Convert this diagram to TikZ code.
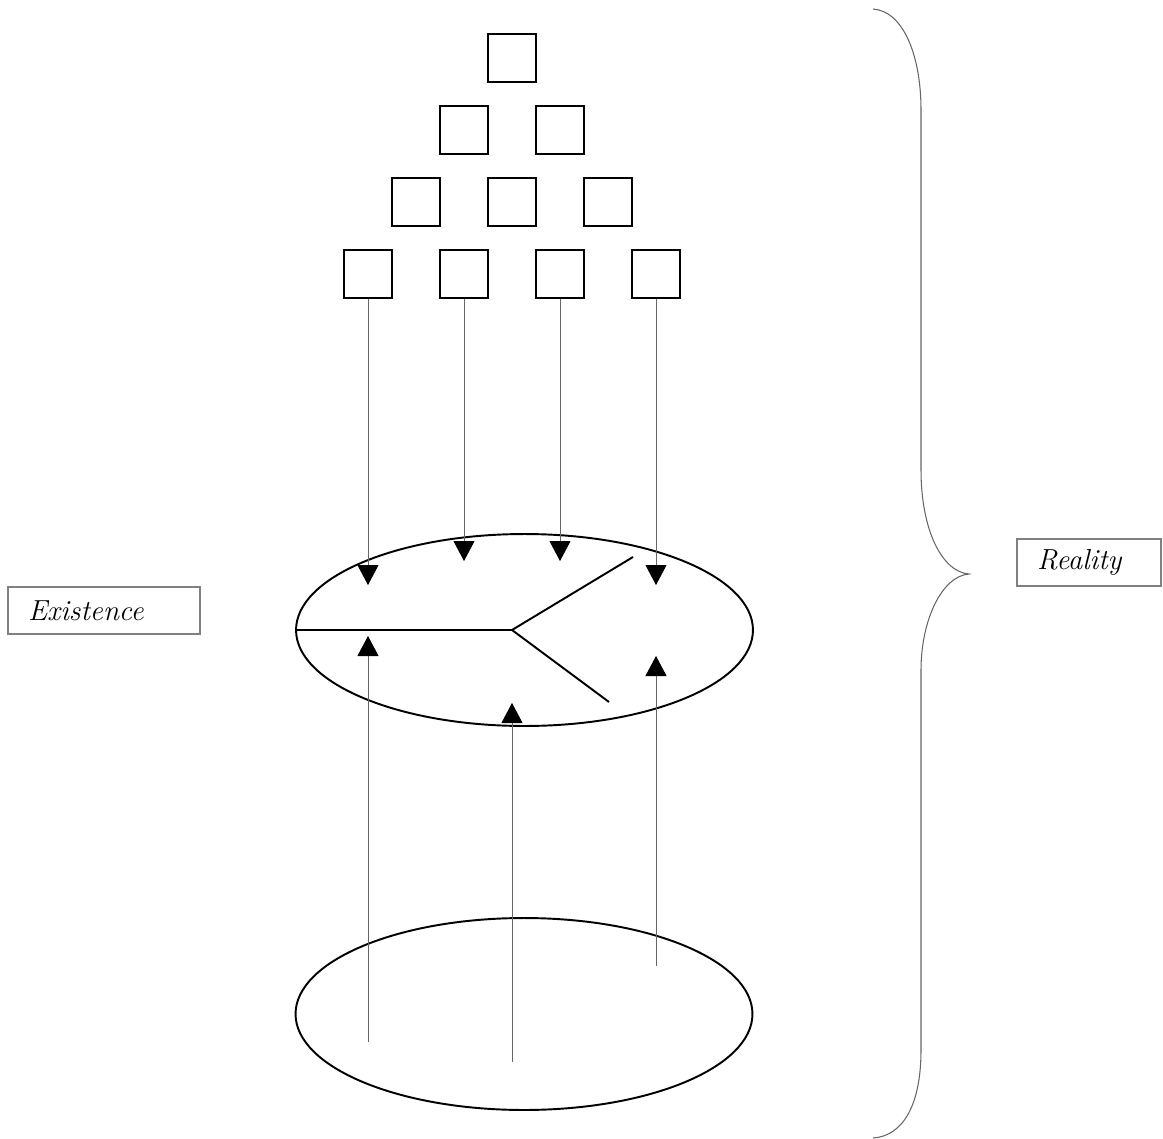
\documentclass[tikz,border=0pt]{standalone}
\usetikzlibrary{positioning,arrows.meta,shapes.geometric}

\begin{document}
\begin{tikzpicture}[x=0.02cm,y=-0.02cm,
  every node/.style={font=\small},
  cell/.style={draw,line width=1.1pt,minimum size=0.96cm,inner sep=0pt},
  rim/.style={draw,ellipse,line width=1.1pt,minimum width=9.14cm,minimum height=3.84cm,inner sep=0pt},
  arrow/.style={-{Triangle[width=0.42cm,length=0.4cm,color=black,fill=black]},gray!80!black,line width=0.5pt},
  tag/.style={draw=gray,line width=0.6pt,font=\fontsize{16.5}{19}\selectfont\itshape,
    inner xsep=0.4cm,inner ysep=0pt,minimum height=0.94cm,align=left}
]
  \useasboundingbox (0,0) rectangle (1163,1139);

  % pyramid of cells
  \foreach \r in {0,...,3}
    \foreach \i in {0,...,\r}
      \node[cell] (b-\r-\i) at ({512-48*\r+96*\i},{58+72*\r}) {};

  \node[rim] (upper) at (524.5,630) {};
  \node[rim] (lower) at (524,1014) {};

  % fork inside the upper ellipse
  \coordinate (fork) at (512,630);
  \coordinate (forkup) at (633,557);
  \coordinate (forkdn) at (609,702);
  \draw[line width=1.1pt] (upper.west) -- (fork) -- (forkup);
  \draw[line width=1.1pt] (fork) -- (forkdn);

  % arrows down from the cells
  \foreach \i/\t in {0/585,1/561,2/561,3/585} {
    \path (b-3-\i.south |- 0,\t) coordinate (in-\i);
    \draw[arrow] (b-3-\i.south) -- (in-\i);
  }

  % arrows up from the lower ellipse
  \coordinate (srca) at (368,1042);
  \coordinate (dsta) at (368,636);
  \coordinate (srcb) at (512,1062);
  \coordinate (dstb) at (512,703);
  \coordinate (srcc) at (656,966);
  \coordinate (dstc) at (656,656);
  \draw[arrow] (srca) -- (dsta);
  \draw[arrow] (srcb) -- (dstb);
  \draw[arrow] (srcc) -- (dstc);

  % brace
  \draw[gray!80!black,line width=0.6pt] (873,9) .. controls (903,11) and (921,55) .. (921,110)
    -- (921,470) .. controls (921,530) and (942,572) .. (969,574)
    .. controls (942,576) and (921,620) .. (921,670)
    -- (921,1050) .. controls (921,1105) and (903,1136) .. (873,1138);

  \node[tag,text width=3.04cm] (exist) at (104,610.5) {Existence};
  \node[tag,text width=2.08cm] (real) at (1089,562.5) {Reality};
\end{tikzpicture}
\end{document}
